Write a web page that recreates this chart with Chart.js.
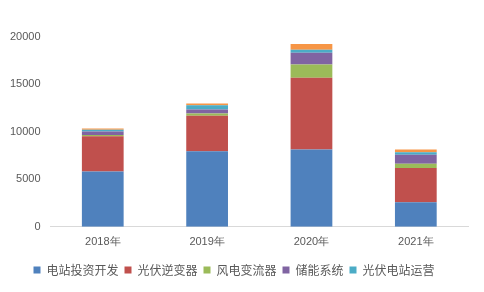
<!DOCTYPE html>
<html><head><meta charset="utf-8">
<script src="https://cdn.jsdelivr.net/npm/chart.js@4/dist/chart.umd.min.js"></script>
<style>html,body{margin:0;padding:0;background:#fff}#c{display:block}</style>
</head><body>
<canvas id="c" width="484" height="292"></canvas>
<script>
const categories = ['2018年', '2019年', '2020年', '2021年'];
const seriesNames = ['电站投资开发', '光伏逆变器', '风电变流器', '储能系统', '光伏电站运营', '其他'];
const stationInvest = [5830, 7950, 8150, 2600];
const pvInverter = [3700, 3750, 7550, 3600];
const windConverter = [150, 240, 1400, 450];
const storage = [370, 420, 1250, 950];
const pvModule = [180, 450, 300, 250];
const other = [130, 180, 600, 300];
const yTicks = [0, 5000, 10000, 15000, 20000];

const colors = ['#4F81BD', '#C0504D', '#9BBB59', '#8064A2', '#4BACC6', '#F79646'];
const values = [stationInvest, pvInverter, windConverter, storage, pvModule, other];

new Chart(document.getElementById('c'), {
  type: 'bar',
  data: {
    labels: categories,
    datasets: values.map((v, i) => ({
      label: seriesNames[i],
      data: v,
      backgroundColor: colors[i],
      borderWidth: 0,
      categoryPercentage: 1,
      barPercentage: 0.4
    }))
  },
  options: {
    responsive: false,
    animation: false,
    layout: { padding: { left: 0, right: 16, top: 37, bottom: 6 } },
    plugins: {
      tooltip: { enabled: false },
      legend: {
        position: 'bottom',
        labels: {
          filter: (item) => item.datasetIndex < 5,
          boxWidth: 7, boxHeight: 7, padding: 6,
          color: '#595959',
          font: { family: 'Noto Sans CJK SC', size: 12 }
        }
      }
    },
    scales: {
      x: {
        stacked: true,
        grid: { display: false, drawTicks: false },
        border: { display: true, color: '#D9D9D9', width: 1 },
        ticks: { color: '#595959', padding: 9, font: { family: 'Liberation Sans', size: 11 } }
      },
      y: {
        stacked: true,
        min: 0, max: 20000,
        afterBuildTicks: (s) => { s.ticks = yTicks.map(v => ({ value: v })); },
        grid: { display: false, drawTicks: false },
        border: { display: false },
        ticks: { color: '#595959', padding: 10, callback: (v) => String(v), font: { family: 'Liberation Sans', size: 11 } }
      }
    }
  }
});
</script>
</body></html>
